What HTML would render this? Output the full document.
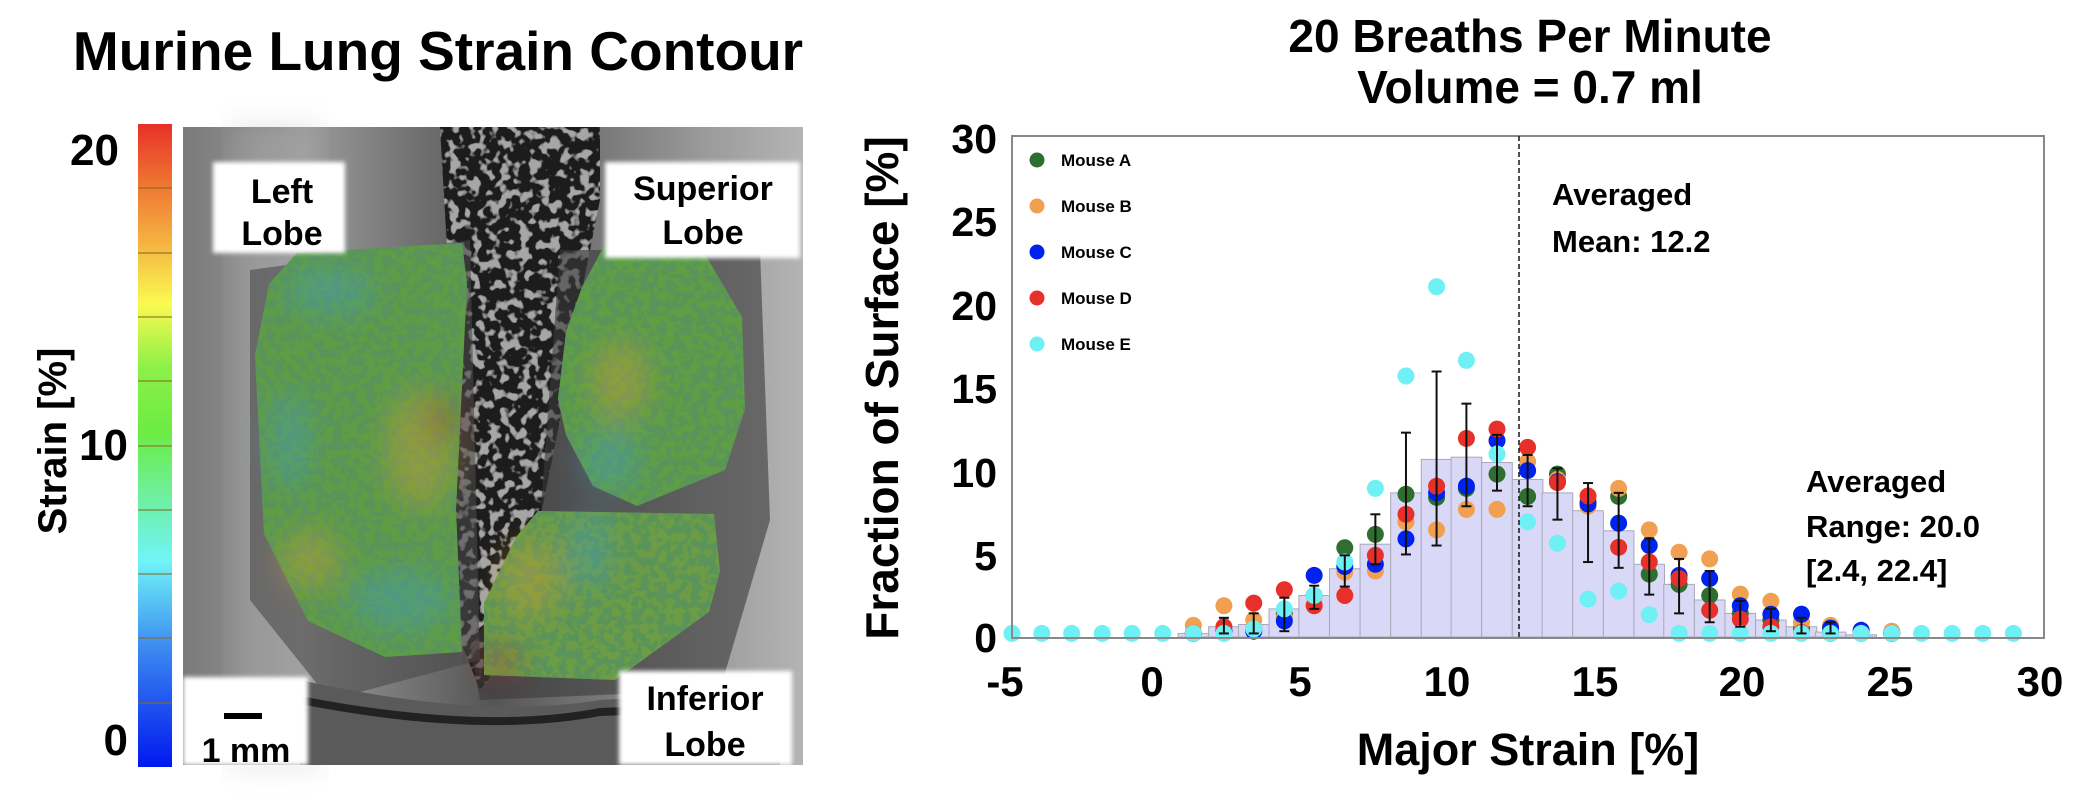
<!DOCTYPE html>
<html><head><meta charset="utf-8"><style>
html,body{margin:0;padding:0;background:#fff;}
body{width:2098px;height:802px;overflow:hidden;font-family:"Liberation Sans",Arial,sans-serif;}
</style></head><body>
<svg id="s" width="2098" height="802" viewBox="0 0 2098 802" xmlns="http://www.w3.org/2000/svg" font-family="Liberation Sans, Arial, sans-serif" font-weight="bold">
<defs>
<linearGradient id="cb" x1="0" y1="1" x2="0" y2="0">
<stop offset="0" stop-color="#0018f0"/><stop offset="0.18" stop-color="#3a86f0"/><stop offset="0.32" stop-color="#70f4f8"/><stop offset="0.42" stop-color="#6ef0a0"/><stop offset="0.52" stop-color="#6cec44"/><stop offset="0.62" stop-color="#8cf048"/><stop offset="0.72" stop-color="#fafa50"/><stop offset="0.82" stop-color="#f4b040"/><stop offset="0.92" stop-color="#ee6c30"/><stop offset="1" stop-color="#e83028"/>
</linearGradient>
<linearGradient id="bg" x1="0" y1="0" x2="1" y2="0">
<stop offset="0" stop-color="#7a7a7a"/><stop offset="0.2" stop-color="#9a9a9a"/><stop offset="0.5" stop-color="#555"/><stop offset="0.85" stop-color="#9c9c9c"/><stop offset="1" stop-color="#b4b4b4"/>
</linearGradient>
<filter id="spk" x="0" y="0" width="1" height="1">
<feTurbulence type="fractalNoise" baseFrequency="0.12" numOctaves="2" seed="3" result="n"/>
<feColorMatrix in="n" type="matrix" values="0 0 0 0 0.1  0 0 0 0 0.3  0 0 0 0 0.1  0 0 0 -9 5.0" result="d"/>
<feComposite in="d" in2="SourceGraphic" operator="in" result="dd"/>
<feMerge><feMergeNode in="SourceGraphic"/><feMergeNode in="dd"/></feMerge>
</filter>
<filter id="dk" x="0" y="0" width="1" height="1">
<feTurbulence type="fractalNoise" baseFrequency="0.1" numOctaves="2" seed="7" result="n"/>
<feColorMatrix in="n" type="matrix" values="0 0 0 0 0.38  0 0 0 0 0.38  0 0 0 0 0.38  0 0 0 -8 3.9" result="d"/>
<feComposite in="d" in2="SourceGraphic" operator="in" result="dd"/>
<feMerge><feMergeNode in="SourceGraphic"/><feMergeNode in="dd"/></feMerge>
</filter>
<filter id="blur"><feGaussianBlur stdDeviation="14"/></filter>
<filter id="wb"><feGaussianBlur stdDeviation="2"/></filter>
</defs>

<!-- Left panel -->
<text x="438" y="70" font-size="55" text-anchor="middle">Murine Lung Strain Contour</text>
<rect x="138" y="124" width="34" height="643" fill="url(#cb)"/>
<g stroke="#8a6a20" stroke-width="1.5" opacity="0.7">
<line x1="138" y1="188" x2="172" y2="188"/><line x1="138" y1="253" x2="172" y2="253"/><line x1="138" y1="317" x2="172" y2="317"/><line x1="138" y1="381" x2="172" y2="381"/><line x1="138" y1="446" x2="172" y2="446"/><line x1="138" y1="510" x2="172" y2="510"/><line x1="138" y1="574" x2="172" y2="574"/><line x1="138" y1="638" x2="172" y2="638"/><line x1="138" y1="703" x2="172" y2="703"/>
</g>
<text x="119" y="165" font-size="44" text-anchor="end">20</text>
<text x="128" y="460" font-size="44" text-anchor="end">10</text>
<text x="128" y="755" font-size="44" text-anchor="end">0</text>
<text transform="translate(66,441) rotate(-90)" font-size="40" text-anchor="middle">Strain [%]</text>

<rect x="183" y="127" width="620" height="638" fill="url(#bg)"/>
<rect x="230" y="127" width="90" height="638" fill="#b0b0b0" opacity="0.35" filter="url(#blur)"/>
<path d="M440 127 L600 127 L600 200 L580 300 L560 420 L540 520 L520 640 L480 690 L460 640 L455 500 L450 300 Z" fill="#1e1e1e" filter="url(#dk)"/>
<path d="M250 270 L470 240 L480 660 L330 700 L250 600 Z" fill="#4a4a4a" opacity="0.6"/>
<path d="M560 250 L760 250 L770 520 L720 690 L480 700 L470 650 L540 520 Z" fill="#3a3a3a" opacity="0.6"/>
<path d="M300 680 Q480 720 600 700 L780 690 L780 765 L300 765 Z" fill="#5a5a5a"/>
<path d="M300 700 Q480 735 600 712 L780 705" stroke="#222" stroke-width="8" fill="none"/>
<g filter="url(#spk)">
<path d="M297 253 L462 243 L467 284 L456 509 L462 652 L385 657 L308 621 L264 534 L255 355 L269 284 Z" fill="#5f9c44"/>
<path d="M604 246 L703 251 L742 317 L745 409 L725 470 L637 506 L593 486 L566 435 L558 399 L566 332 L582 287 Z" fill="#5e9e44"/>
<path d="M538 511 L714 514 L720 571 L709 612 L615 680 L484 675 L484 603 L516 537 Z" fill="#6c9c44"/>
</g>
<g opacity="0.35" filter="url(#blur)">
<ellipse cx="330" cy="290" rx="45" ry="25" fill="#40a0d0"/>
<ellipse cx="420" cy="450" rx="35" ry="60" fill="#e0a030"/>
<ellipse cx="440" cy="420" rx="15" ry="25" fill="#e02020"/>
<ellipse cx="290" cy="440" rx="20" ry="50" fill="#40a0d0"/>
<ellipse cx="400" cy="600" rx="50" ry="30" fill="#40a0d0"/>
<ellipse cx="310" cy="560" rx="30" ry="30" fill="#e0a030"/>
<ellipse cx="620" cy="380" rx="30" ry="40" fill="#e0a030"/>
<ellipse cx="610" cy="460" rx="30" ry="30" fill="#40a0d0"/>
<ellipse cx="530" cy="580" rx="30" ry="40" fill="#e0a030"/>
<ellipse cx="500" cy="660" rx="20" ry="15" fill="#e02020"/>
<ellipse cx="590" cy="550" rx="20" ry="40" fill="#40a0d0"/>
</g>
<g filter="url(#wb)" fill="#fff">
<rect x="213" y="162" width="132" height="91"/>
<rect x="605" y="162" width="195" height="96"/>
<rect x="619" y="671" width="173" height="94"/>
<rect x="183" y="677" width="125" height="88"/>
</g>
<g font-size="34" text-anchor="middle">
<text x="282" y="203">Left</text><text x="282" y="245">Lobe</text>
<text x="703" y="200">Superior</text><text x="703" y="244">Lobe</text>
<text x="705" y="710">Inferior</text><text x="705" y="756">Lobe</text>
<text x="246" y="762">1 mm</text>
</g>
<rect x="224" y="713" width="38" height="6" fill="#000"/>

<!-- Right panel -->
<text x="1530" y="52" font-size="46" text-anchor="middle">20 Breaths Per Minute</text>
<text x="1530" y="103" font-size="46" text-anchor="middle">Volume = 0.7 ml</text>
<text transform="translate(898,388) rotate(-90)" font-size="46" text-anchor="middle">Fraction of Surface [%]</text>
<text x="1528" y="765" font-size="45" text-anchor="middle">Major Strain [%]</text>
<g id="plot"></g>
<rect x="1012" y="136" width="1032" height="502" fill="none" stroke="#888" stroke-width="2"/>
<g font-size="41" text-anchor="end">
<text x="997" y="153">30</text><text x="997" y="236">25</text><text x="997" y="320">20</text><text x="997" y="403">15</text><text x="997" y="487">10</text><text x="997" y="570">5</text><text x="997" y="652">0</text>
</g>
<g font-size="42" text-anchor="middle">
<text x="1005" y="696">-5</text><text x="1152" y="696">0</text><text x="1300" y="696">5</text><text x="1447" y="696">10</text><text x="1595" y="696">15</text><text x="1742" y="696">20</text><text x="1890" y="696">25</text><text x="2040" y="696">30</text>
</g>
<line x1="1519" y1="136" x2="1519" y2="638" stroke="#222" stroke-width="1.6" stroke-dasharray="5,3"/>
<g font-size="31" font-weight="bold">
<text x="1552" y="205">Averaged</text><text x="1552" y="252">Mean: 12.2</text>
<text x="1806" y="492">Averaged</text><text x="1806" y="537">Range: 20.0</text><text x="1806" y="581">[2.4, 22.4]</text>
</g>
<g font-size="17">
<circle cx="1037" cy="160" r="7.5" fill="#2e6e2e"/><text x="1061" y="166">Mouse A</text>
<circle cx="1037" cy="206" r="7.5" fill="#f0a050"/><text x="1061" y="212">Mouse B</text>
<circle cx="1037" cy="252" r="7.5" fill="#0022ee"/><text x="1061" y="258">Mouse C</text>
<circle cx="1037" cy="298" r="7.5" fill="#e8302a"/><text x="1061" y="304">Mouse D</text>
<circle cx="1037" cy="344" r="7.5" fill="#6ef0f4"/><text x="1061" y="350">Mouse E</text>
</g>
</svg>
<script>
(function(){
var NS="http://www.w3.org/2000/svg",g=document.getElementById("plot");
function X(z){return 1012+(z-148)*0.765;}
function Y(z){return 637-(1203-z)*0.4462;}
function el(n,a){var e=document.createElementNS(NS,n);for(var k in a)e.setAttribute(k,a[k]);g.appendChild(e);return e;}
var bars=[[385,1195],[425,1180],[464,1175],[504,1140],[543,1110],[583,1050],[623,995],[663,880],[703,805],[742,800],[782,812],[822,850],[861,880],[901,920],[941,965],[981,1040],[1020,1085],[1060,1120],[1100,1150],[1140,1165],[1180,1180],[1218,1192],[1258,1198]];
bars.forEach(function(b){var x=X(b[0])-15.3,y=Y(b[1]);el("rect",{x:x,y:y,width:30.6,height:637-y,fill:"#d9d9f7",stroke:"#a8a8b8","stroke-width":1});});
var err=[[425,1160,1195],[464,1150,1195],[504,1115,1190],[543,1088,1140],[583,1020,1090],[623,928,1040],[663,745,1018],[703,608,998],[742,680,910],[782,750,875],[822,795,910],[861,825,940],[901,858,1035],[941,880,1048],[981,982,1108],[1020,1028,1150],[1060,1055,1170],[1100,1122,1180],[1140,1140,1190],[1180,1160,1195],[1218,1170,1195]];
var pts=[[385,1195,1177,1195,1195,1195],[425,1190,1133,1190,1180,1195],[464,1185,1165,1190,1127,1185],[504,1150,1160,1167,1097,1140],[543,1110,1130,1065,1133,1110],[583,1003,1058,1045,1110,1035],[623,973,1055,1040,1020,870],[663,883,945,983,928,618],[703,890,963,880,865,418],[742,870,917,865,758,583],[782,838,917,763,737,793],[822,888,810,830,778,945],[861,838,850,855,857,993],[901,900,910,905,887,1118],[941,888,870,948,1002,1100],[981,1062,963,998,1035,1153],[1020,1085,1013,1065,1072,1195],[1060,1110,1028,1072,1143,1195],[1100,1150,1107,1133,1163,1195],[1140,1165,1123,1152,1180,1195],[1180,1185,1170,1152,1193,1195],[1218,1192,1177,1183,1195,1195],[1258,1192,1190,1188,1195,1195],[1298,1195,1190,1195,1195,1195]];
var cols=["#2e6e2e","#f0a050","#0022ee","#e8302a","#6ef0f4"];
for(var s=0;s<5;s++){pts.forEach(function(p){el("circle",{cx:X(p[0]),cy:Y(p[s+1]),r:8.5,fill:cols[s]});});}
[148,187,226,266,305,345,1337,1377,1417,1457].forEach(function(x){el("circle",{cx:X(x),cy:Y(1195),r:8.5,fill:"#6ef0f4"});});
err.forEach(function(e){var x=X(e[0]),a=Y(e[1]),b=Y(e[2]);el("line",{x1:x,y1:a,x2:x,y2:b,stroke:"#111","stroke-width":2});el("line",{x1:x-5,y1:a,x2:x+5,y2:a,stroke:"#111","stroke-width":2});el("line",{x1:x-5,y1:b,x2:x+5,y2:b,stroke:"#111","stroke-width":2});});
})();
</script>
</body></html>
